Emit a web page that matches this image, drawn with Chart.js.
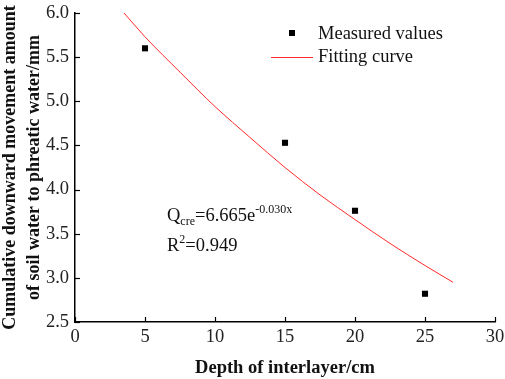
<!DOCTYPE html>
<html>
<head>
<meta charset="utf-8">
<script src="https://cdn.jsdelivr.net/npm/chart.js@4"></script>
<style>
  html, body { margin: 0; padding: 0; background: #fff; }
  #wrap { width: 505px; height: 379px; position: relative; }
</style>
</head>
<body>
<div id="wrap"><canvas id="fitChart"></canvas></div>
<script>
// measured points (depth of interlayer, cm -> amount, mm)
const depths = [5, 15, 20, 25];
const measured = [5.6, 4.53, 3.76, 2.82];

// fitting curve
const curveX = [3.5, 5, 7.5, 10, 12.5, 15, 17.5, 20, 22.5, 25, 27];
const curveY = [6.0, 5.73, 5.33, 4.94, 4.59, 4.25, 3.94, 3.66, 3.39, 3.14, 2.95];

const xTicks = [0, 5, 10, 15, 20, 25, 30];
const yTicks = [2.5, 3.0, 3.5, 4.0, 4.5, 5.0, 5.5, 6.0];

const serif = "'Liberation Serif', 'Times New Roman', serif";

// ticks pointing into the plot, plus legend and equation text
const extras = {
  id: "extras",
  afterDraw(chart) {
    const ctx = chart.ctx;
    const x = chart.scales.x, y = chart.scales.y;
    const area = chart.chartArea;
    ctx.save();
    ctx.strokeStyle = "#000";
    ctx.lineWidth = 1.2;
    x.ticks.forEach((t, i) => {
      const px = Math.round(x.getPixelForTick(i)) + 0.5;
      ctx.beginPath();
      ctx.moveTo(px, area.bottom);
      ctx.lineTo(px, area.bottom - 5);
      ctx.stroke();
    });
    y.ticks.forEach((t, i) => {
      const py = Math.round(y.getPixelForTick(i)) + 0.5;
      ctx.beginPath();
      ctx.moveTo(area.left, py);
      ctx.lineTo(area.left + 5, py);
      ctx.stroke();
    });

    // legend
    ctx.fillStyle = "#000";
    ctx.fillRect(289, 30, 6, 6);
    ctx.strokeStyle = "#ff2a2a";
    ctx.lineWidth = 1;
    ctx.beginPath();
    ctx.moveTo(271, 57.5);
    ctx.lineTo(313, 57.5);
    ctx.stroke();
    ctx.fillStyle = "#111";
    ctx.font = "18.5px " + serif;
    ctx.textBaseline = "middle";
    ctx.textAlign = "left";
    ctx.fillText("Measured values", 318, 34);
    ctx.fillText("Fitting curve", 318, 57);

    // equation
    ctx.textBaseline = "alphabetic";
    let cx = 167;
    const base = 221;
    ctx.font = "18.5px " + serif;
    ctx.fillText("Q", cx, base);
    cx += ctx.measureText("Q").width;
    ctx.font = "12px " + serif;
    ctx.fillText("cre", cx, base + 4);
    cx += ctx.measureText("cre").width;
    ctx.font = "18.5px " + serif;
    ctx.fillText("=6.665e", cx, base);
    cx += ctx.measureText("=6.665e").width;
    ctx.font = "12px " + serif;
    ctx.fillText("-0.030x", cx, base - 8);

    cx = 167;
    const base2 = 251;
    ctx.font = "18.5px " + serif;
    ctx.fillText("R", cx, base2);
    cx += ctx.measureText("R").width;
    ctx.font = "12px " + serif;
    ctx.fillText("2", cx, base2 - 8);
    cx += ctx.measureText("2").width;
    ctx.font = "18.5px " + serif;
    ctx.fillText("=0.949", cx, base2);
    ctx.restore();
  }
};

new Chart(document.getElementById("fitChart"), {
  type: "scatter",
  data: {
    datasets: [
      {
        label: "Measured values",
        data: depths.map((d, i) => ({ x: d, y: measured[i] })),
        pointStyle: "rect",
        pointRadius: 4.3,
        pointBorderWidth: 0,
        backgroundColor: "#000",
        borderColor: "#000",
      },
      {
        label: "Fitting curve",
        data: curveX.map((d, i) => ({ x: d, y: curveY[i] })),
        showLine: true,
        borderColor: "#ff2a2a",
        borderWidth: 1,
        pointRadius: 0,
        cubicInterpolationMode: "monotone",
      },
    ],
  },
  options: {
    responsive: true,
    maintainAspectRatio: false,
    animation: false,
    layout: { padding: { top: 13, right: 10, left: 0, bottom: 0 } },
    plugins: {
      legend: { display: false },
      tooltip: { enabled: false },
    },
    scales: {
      x: {
        type: "linear",
        min: 0,
        max: 30,
        afterBuildTicks: (s) => { s.ticks = xTicks.map((v) => ({ value: v })); },
        afterFit: (s) => {
          s.height = 57;
          s.paddingLeft = 0;
          s.paddingRight = 0;
        },
        grid: { display: false, drawTicks: false },
        border: { color: "#000", width: 1.5 },
        ticks: {
          color: "#222",
          padding: 4,
          font: { family: serif, size: 18.5 },
        },
        title: {
          display: true,
          text: "Depth of interlayer/cm",
          color: "#111",
          font: { family: serif, size: 18.5, weight: "bold" },
          padding: { top: 6, bottom: 0 },
        },
      },
      y: {
        min: 2.5,
        max: 6.0,
        afterBuildTicks: (s) => { s.ticks = yTicks.map((v) => ({ value: v })); },
        afterFit: (s) => {
          s.width = 75;
          s.paddingTop = 0;
          s.paddingBottom = 0;
        },
        grid: { display: false, drawTicks: false },
        border: { color: "#000", width: 1.5 },
        ticks: {
          color: "#222",
          padding: 6,
          font: { family: serif, size: 18.5 },
          callback: (v) => Number(v).toFixed(1),
        },
        title: {
          display: true,
          text: ["Cumulative downward movement amount", "of soil water to phreatic water/mm"],
          color: "#111",
          font: { family: serif, size: 18, weight: "bold", lineHeight: 1.34 },
          padding: { top: -2, bottom: 0 },
        },
      },
    },
  },
  plugins: [extras],
});
</script>
</body>
</html>
